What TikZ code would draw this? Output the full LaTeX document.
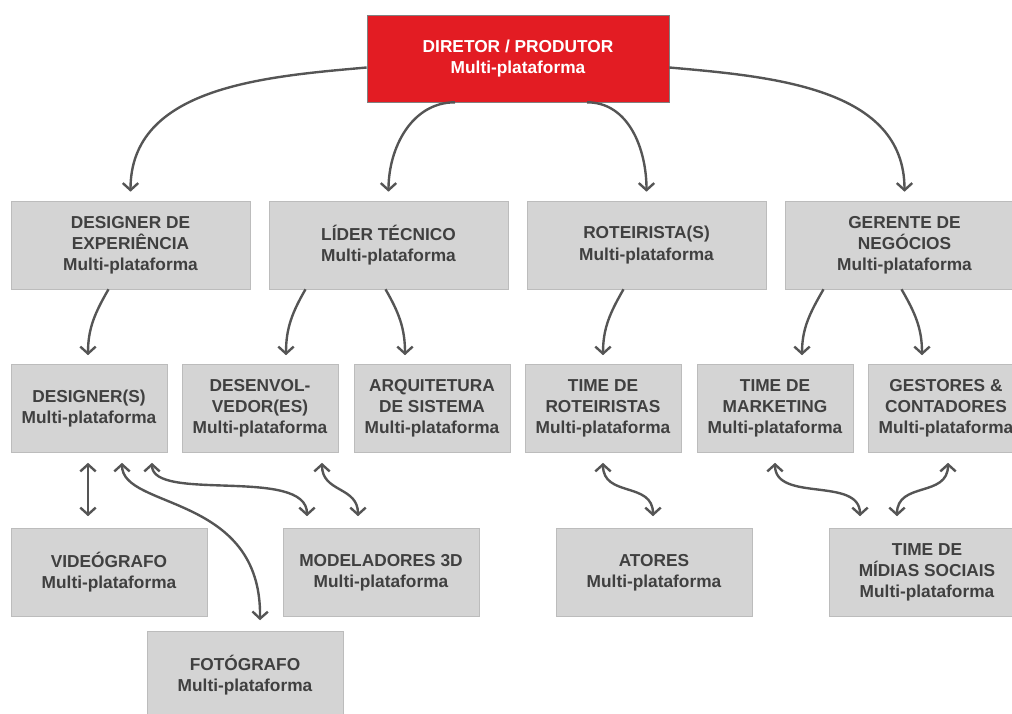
\documentclass[tikz,border=0pt]{standalone}
\usepackage{fontspec}
\setmainfont{Liberation Sans}
\usetikzlibrary{arrows.meta, calc}
\definecolor{redbox}{RGB}{227,28,35}
\definecolor{greybox}{RGB}{212,212,212}
\definecolor{greyline}{RGB}{188,188,188}
\definecolor{darktext}{RGB}{64,64,64}
\definecolor{arrowgrey}{RGB}{85,85,85}

\begin{document}
\begin{tikzpicture}[x=0.025cm, y=-0.025cm,
    box/.style={draw=greyline, fill=greybox, text=darktext, inner sep=0pt,
      align=center, font=\bfseries\fontsize{12.3}{15}\selectfont, minimum height=2.2cm},
    rowtwo/.style={box, minimum width=5.975cm},
    rowthree/.style={box, minimum width=3.9cm},
    rowfour/.style={box, minimum width=4.9cm},
    link/.style={arrowgrey, line width=1.7pt, -{Straight Barb[length=5pt, width=11pt]}},
    both/.style={link, {Straight Barb[length=5pt, width=11pt]}-{Straight Barb[length=5pt, width=11pt]}}]
  \useasboundingbox (0,0) rectangle (1012,713);
  \clip (0,0) rectangle (1012,713);
  % Director
  \node[box, fill=redbox, draw=gray, text=white, minimum width=7.55cm, minimum height=2.175cm]
    (diretor) at (518,58.5) {DIRETOR / PRODUTOR\\Multi-plataforma};
  % Second row
  \node[rowtwo] (dexp) at (130.5,245) {DESIGNER DE\\EXPERIÊNCIA\\Multi-plataforma};
  \node[rowtwo] (lider) at (388.5,245) {LÍDER TÉCNICO\\Multi-plataforma};
  \node[rowtwo] (rot) at (646.5,245) {ROTEIRISTA(S)\\Multi-plataforma};
  \node[rowtwo] (gerente) at (904.5,245) {GERENTE DE\\NEGÓCIOS\\Multi-plataforma};
  % Third row
  \node[rowthree] (designers) at (89,408.5) {DESIGNER(S)\\Multi-plataforma};
  \node[rowthree] (desenv) at (260,408.5) {DESENVOL-\\VEDOR(ES)\\Multi-plataforma};
  \node[rowthree] (arq) at (432,408.5) {ARQUITETURA\\DE SISTEMA\\Multi-plataforma};
  \node[rowthree] (troteiristas) at (603,408.5) {TIME DE\\ROTEIRISTAS\\Multi-plataforma};
  \node[rowthree] (tmarketing) at (775,408.5) {TIME DE\\MARKETING\\Multi-plataforma};
  \node[rowthree] (gestores) at (946,408.5) {GESTORES \&\\CONTADORES\\Multi-plataforma};
  % Fourth row
  \node[rowfour] (video) at (109,572.5) {VIDEÓGRAFO\\Multi-plataforma};
  \node[rowfour] (modeladores) at (381,572.5) {MODELADORES 3D\\Multi-plataforma};
  \node[rowfour] (atores) at (654,572.5) {ATORES\\Multi-plataforma};
  \node[rowfour] (midias) at (927,572.5) {TIME DE\\MÍDIAS SOCIAIS\\Multi-plataforma};
  \node[rowfour] (fotografo) at (245,675.5) {FOTÓGRAFO\\Multi-plataforma};
  % Director to second row
  \draw[link] ($(diretor.west)+(0,9)$) to[out=185, in=90] ($(dexp.north)+(0,-9)$);
  \draw[link] ($(diretor.south)+(-63,0)$) to[out=180, in=90] ($(lider.north)+(0,-9)$);
  \draw[link] ($(diretor.south)+(69,0)$) to[out=0, in=90] ($(rot.north)+(0,-9)$);
  \draw[link] ($(diretor.east)+(0,9)$) to[out=-5, in=90] ($(gerente.north)+(0,-9)$);
  % Second row to third row
  \draw[link] ($(dexp.south)+(-22,0)$) to[out=240, in=90] ($(designers.north)+(-1,-9)$);
  \draw[link] ($(lider.south)+(-83,0)$) to[out=240, in=90] ($(desenv.north)+(26,-9)$);
  \draw[link] ($(lider.south)+(-3,0)$) to[out=-60, in=90] ($(arq.north)+(-27,-9)$);
  \draw[link] ($(rot.south)+(-23,0)$) to[out=240, in=90] ($(troteiristas.north)+(0,-9)$);
  \draw[link] ($(gerente.south)+(-81,0)$) to[out=240, in=90] ($(tmarketing.north)+(27,-9)$);
  \draw[link] ($(gerente.south)+(-3,0)$) to[out=-60, in=90] ($(gestores.north)+(-24,-9)$);
  % Third row to fourth row
  \draw[both] ($(designers.south)+(-1,10)$) -- ($(video.north)+(-21,-12)$);
  \draw[both] ($(designers.south)+(33,10)$) .. controls +(0,47) and +(2,-127) .. ($(fotografo.north)+(15,-11)$);
  \draw[both] ($(designers.south)+(63,10)$) .. controls +(0,40) and +(0,-50) .. ($(modeladores.north)+(-74,-12)$);
  \draw[both] ($(desenv.south)+(62,10)$) .. controls +(0,30) and +(0,-30) .. ($(modeladores.north)+(-23,-12)$);
  \draw[both] ($(troteiristas.south)+(0,10)$) .. controls +(0,35) and +(0,-35) .. ($(atores.north)+(-1,-12)$);
  \draw[both] ($(tmarketing.south)+(0,10)$) .. controls +(0,40) and +(0,-40) .. ($(midias.north)+(-67,-12)$);
  \draw[both] ($(gestores.south)+(2,10)$) .. controls +(0,35) and +(0,-35) .. ($(midias.north)+(-30,-12)$);
\end{tikzpicture}
\end{document}
